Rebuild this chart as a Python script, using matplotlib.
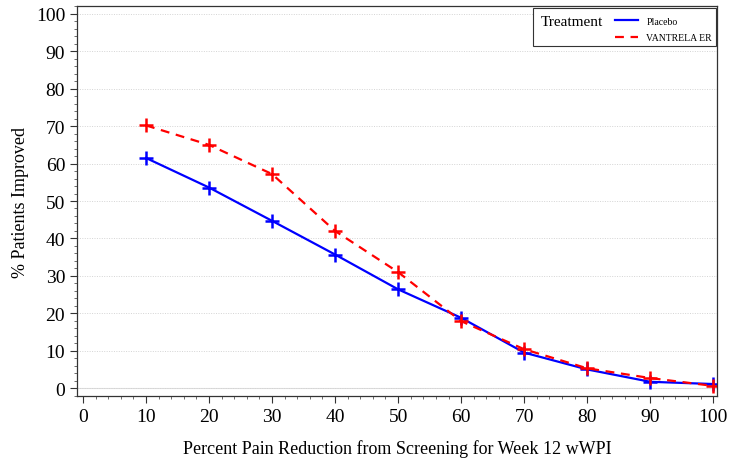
import matplotlib.pyplot as plt
import numpy as np
from matplotlib.lines import Line2D
from matplotlib.patches import Rectangle
from matplotlib.ticker import MultipleLocator

# data
pain_reduction = [10, 20, 30, 40, 50, 60, 70, 80, 90, 100]
placebo = [61.5, 53.6, 44.7, 35.7, 26.4, 18.8, 9.5, 5.0, 1.7, 1.1]
vantrela = [70.2, 65.0, 57.2, 42.0, 31.0, 17.9, 10.4, 5.3, 2.7, 0.6]
x_ticks = list(range(0, 101, 10))
y_ticks = list(range(0, 101, 10))

plt.rcParams['font.family'] = ['Liberation Serif', 'DejaVu Serif']

fig = plt.figure(figsize=(7.43, 4.77), dpi=100)
ax = fig.add_axes([0.1036, 0.1677, 0.8614, 0.8176])

ax.plot(pain_reduction, placebo, '-', color='#0000ff', linewidth=1.6,
        marker='+', markersize=10, markeredgewidth=1.8)
ax.plot(pain_reduction, vantrela, '--', color='#ff0000', linewidth=1.6,
        dashes=(4, 3), marker='+', markersize=10, markeredgewidth=1.8)

ax.set_xlim(-0.95, 100.6)
ax.set_ylim(-2.1, 102.1)
ax.set_xticks(x_ticks)
ax.set_yticks(y_ticks)
ax.xaxis.set_minor_locator(MultipleLocator(2))
ax.yaxis.set_minor_locator(MultipleLocator(2))
ax.tick_params(which='major', direction='out', length=5, width=0.8,
               labelsize=14, colors='#333333', labelcolor='black')
ax.tick_params(which='minor', direction='out', length=2.5, width=0.6,
               colors='#555555')

ax.grid(axis='y', which='major', linestyle=(0, (1, 1.5)), color='#d4d4d4',
        linewidth=0.7)
ax.axhline(0, color='#dddddd', linewidth=0.8, zorder=0)

for spine in ax.spines.values():
    spine.set_color('#333333')
    spine.set_linewidth(0.9)

ax.set_xlabel('Percent Pain Reduction from Screening for Week 12 wWPI',
              fontsize=13, labelpad=10)
ax.set_ylabel('% Patients Improved', fontsize=13, labelpad=5)

# legend box: "Treatment" on the left, entries on the right
ax.add_patch(Rectangle((0.7125, 0.897), 0.2855, 0.098, transform=ax.transAxes,
                       facecolor='white', edgecolor='#333333', linewidth=0.8,
                       zorder=4))
ax.text(0.725, 0.96, 'Treatment', transform=ax.transAxes, fontsize=11,
        ha='left', va='center', zorder=5)
handles = [Line2D([], [], color='#0000ff', linewidth=1.6),
           Line2D([], [], color='#ff0000', linewidth=1.6, linestyle='--', dashes=(4, 3))]
labels = ['Placebo', 'VANTRELA ER']
leg = ax.legend(handles, labels, loc='upper right',
                bbox_to_anchor=(0.998, 0.983), frameon=False, fontsize=7,
                handlelength=2.4, handletextpad=0.85, labelspacing=0.8,
                borderpad=0.4, borderaxespad=0)
leg.set_zorder(6)

fig.savefig('out.png', dpi=100)
